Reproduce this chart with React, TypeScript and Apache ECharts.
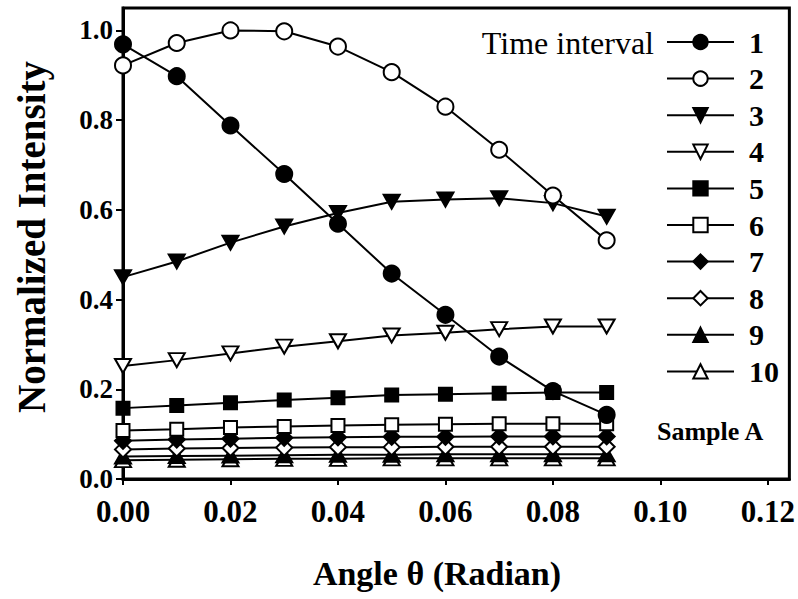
import React, { useEffect, useRef } from "react";
import * as echarts from "echarts";

const angles = [0, 0.01, 0.02, 0.03, 0.04, 0.05, 0.06, 0.07, 0.08, 0.09];

const s1 = [0.969, 0.898, 0.788, 0.68, 0.569, 0.458, 0.366, 0.273, 0.196, 0.143];
const s2 = [0.922, 0.972, 1.0, 0.998, 0.964, 0.907, 0.83, 0.734, 0.632, 0.532];
const s3 = [0.45, 0.485, 0.527, 0.563, 0.593, 0.618, 0.623, 0.626, 0.615, 0.585];
const s4 = [0.252, 0.265, 0.28, 0.295, 0.307, 0.32, 0.326, 0.334, 0.34, 0.34];
const s5 = [0.158, 0.164, 0.17, 0.176, 0.181, 0.187, 0.189, 0.191, 0.193, 0.193];
const s6 = [0.108, 0.111, 0.115, 0.117, 0.119, 0.121, 0.122, 0.123, 0.123, 0.123];
const s7 = [0.085, 0.088, 0.09, 0.092, 0.093, 0.094, 0.094, 0.095, 0.095, 0.095];
const s8 = [0.066, 0.068, 0.069, 0.07, 0.071, 0.071, 0.072, 0.072, 0.072, 0.072];
const s9 = [0.05, 0.051, 0.052, 0.053, 0.054, 0.054, 0.055, 0.055, 0.055, 0.055];
const s10 = [0.042, 0.043, 0.044, 0.045, 0.045, 0.046, 0.046, 0.046, 0.046, 0.046];

const seriesNames = ["1", "2", "3", "4", "5", "6", "7", "8", "9", "10"];
const seriesValues = [s1, s2, s3, s4, s5, s6, s7, s8, s9, s10];

const xTicks = [0, 0.02, 0.04, 0.06, 0.08, 0.1, 0.12];
const yTicks = [0, 0.2, 0.4, 0.6, 0.8, 1.0];

const xTitle = "Angle θ (Radian)";
const yTitle = "Normalized Intensity";
const legendTitle = "Time interval";
const sampleLabel = "Sample A";

const markerStyles = [
  { symbol: "circle", filled: true, rotate: 0, size: 16 },
  { symbol: "circle", filled: false, rotate: 0, size: 16 },
  { symbol: "triangle", filled: true, rotate: 180, size: [16, 14] },
  { symbol: "triangle", filled: false, rotate: 180, size: [16, 14] },
  { symbol: "rect", filled: true, rotate: 0, size: 13 },
  { symbol: "rect", filled: false, rotate: 0, size: 13 },
  { symbol: "diamond", filled: true, rotate: 0, size: 16 },
  { symbol: "diamond", filled: false, rotate: 0, size: 16 },
  { symbol: "triangle", filled: true, rotate: 0, size: [16, 14] },
  { symbol: "triangle", filled: false, rotate: 0, size: [16, 14] },
];

const SERIF = "'Liberation Serif', 'Times New Roman', serif";

export default function App() {
  const ref = useRef<HTMLDivElement>(null);

  useEffect(() => {
    if (!ref.current) return;
    const chart = echarts.init(ref.current, null, { renderer: "svg" });

    const series = seriesNames.map((name, k) => {
      const m = markerStyles[k];
      return {
        type: "line",
        name,
        data: angles.map((a, i) => [a, seriesValues[k][i]]),
        symbol: m.symbol,
        symbolSize: m.size,
        symbolRotate: m.rotate,
        showAllSymbol: true,
        z: 10 - k,
        lineStyle: { color: "#000", width: 2 },
        itemStyle: {
          color: m.filled ? "#000" : "#fff",
          borderColor: "#000",
          borderWidth: 2,
          opacity: 1,
        },
        emphasis: { disabled: true },
      };
    });

    const option = {
      animation: false,
      backgroundColor: "#fff",
      grid: {
        left: 123,
        top: 8,
        right: 6,
        bottom: 120,
        show: true,
        borderColor: "#000",
        borderWidth: 3,
        backgroundColor: "transparent",
      },
      xAxis: {
        type: "value",
        min: 0,
        max: 0.124,
        splitLine: { show: false },
        axisLine: { show: true, lineStyle: { color: "#000", width: 3 } },
        axisTick: {
          show: true,
          inside: false,
          length: 6,
          lineStyle: { color: "#000", width: 2 },
          customValues: xTicks,
        },
        axisLabel: {
          customValues: xTicks,
          formatter: (v: number) => v.toFixed(2),
          margin: 17,
          color: "#000",
          fontFamily: SERIF,
          fontWeight: "bold",
          fontSize: 31,
        },
      },
      yAxis: {
        type: "value",
        min: 0,
        max: 1.05,
        splitLine: { show: false },
        axisLine: { show: true, lineStyle: { color: "#000", width: 3 } },
        axisTick: {
          show: true,
          inside: false,
          length: 7,
          lineStyle: { color: "#000", width: 2 },
          customValues: yTicks,
        },
        axisLabel: {
          customValues: yTicks,
          formatter: (v: number) => v.toFixed(1),
          margin: 10,
          color: "#000",
          fontFamily: SERIF,
          fontWeight: "bold",
          fontSize: 27,
        },
      },
      legend: {
        orient: "vertical",
        left: 666,
        top: 27,
        padding: 0,
        itemWidth: 67,
        itemHeight: 18,
        itemGap: 6.6,
        data: seriesNames,
        selectedMode: false,
        textStyle: {
          color: "#000",
          fontFamily: SERIF,
          fontWeight: "bold",
          fontSize: 30,
          lineHeight: 18,
          padding: [0, 0, 0, 10],
        },
      },
      graphic: [
        {
          type: "text",
          x: 654,
          y: 43,
          style: {
            text: legendTitle,
            align: "right",
            verticalAlign: "middle",
            font: `normal 32px ${SERIF}`,
            fill: "#000",
          },
        },
        {
          type: "text",
          x: 657,
          y: 431,
          style: {
            text: sampleLabel,
            align: "left",
            verticalAlign: "middle",
            font: `bold 26px ${SERIF}`,
            fill: "#000",
          },
        },
        {
          type: "text",
          x: 437,
          y: 573,
          style: {
            text: xTitle,
            align: "center",
            verticalAlign: "middle",
            font: `bold 34px ${SERIF}`,
            fill: "#000",
          },
        },
        {
          type: "text",
          x: 31,
          y: 237,
          rotation: Math.PI / 2,
          style: {
            text: yTitle,
            align: "center",
            verticalAlign: "middle",
            font: `bold 39px ${SERIF}`,
            fill: "#000",
          },
        },
      ],
      series,
    };

    chart.setOption(option as any);
    return () => chart.dispose();
  }, []);

  return (
    <div
      ref={ref}
      style={{ position: "fixed", left: 0, top: 0, width: 798, height: 599 }}
    />
  );
}
